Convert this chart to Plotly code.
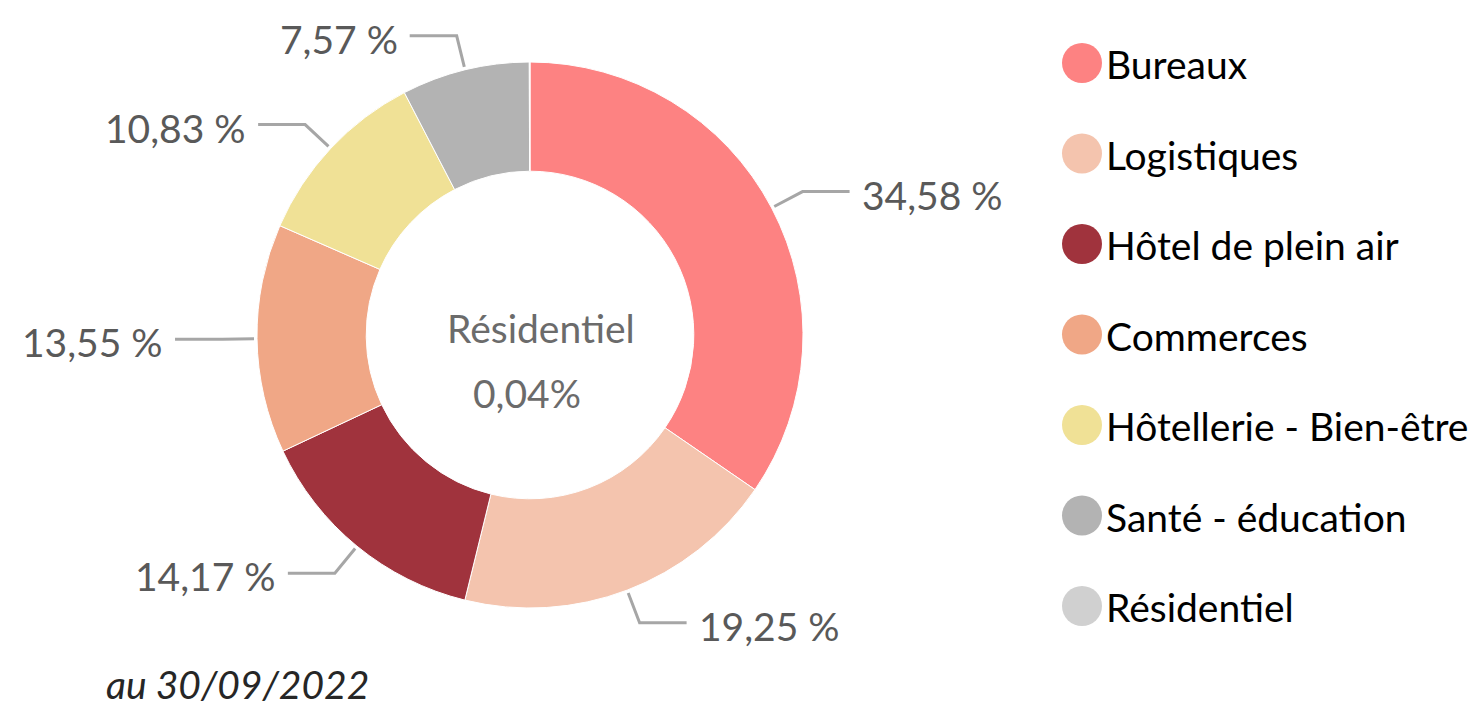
import math
import plotly.graph_objects as go

categories = ["Bureaux", "Logistiques", "Hôtel de plein air", "Commerces",
              "Hôtellerie - Bien-être", "Santé - éducation", "Résidentiel"]
values = [34.58, 19.25, 14.17, 13.55, 10.83, 7.57, 0.04]
colors = ["#FD8282", "#F4C4AE", "#A0333D", "#F0A786", "#F0E196", "#B3B3B3", "#D0D0D0"]
date_note = "au 30/09/2022"

W, H = 1473, 709
FONT = "Lato"
FS = 39

# pie geometry in pixels
cx, cy, R = 530, 335, 273
hole = 0.6


def px(x):
    return x / W


def py(y):
    return 1 - y / H


fig = go.Figure()
fig.add_trace(go.Pie(
    labels=categories, values=values, hole=hole, sort=False, direction="clockwise",
    rotation=0, marker=dict(colors=colors, line=dict(color="white", width=1)),
    textinfo="none", hoverinfo="label+percent", showlegend=False,
    domain=dict(x=[px(cx - R), px(cx + R)], y=[py(cy + R), py(cy - R)]),
))

shapes = []
annotations = []
total = sum(values)
cum = 0.0
for i, (cat, v) in enumerate(zip(categories, values)):
    mid = 2 * math.pi * (cum + v / 2) / total
    cum += v
    if cat == "Résidentiel":
        continue
    s, c = math.sin(mid), math.cos(mid)
    r0, r1 = R + 3, R + 35
    x0, y0 = cx + r0 * s, cy - r0 * c
    x1, y1 = cx + r1 * s, cy - r1 * c
    sign = 1 if s >= 0 else -1
    x2 = x1 + sign * 47
    shapes.append(dict(type="path", xref="paper", yref="paper",
                       path=f"M {px(x0)},{py(y0)} L {px(x1)},{py(y1)} L {px(x2)},{py(y1)}",
                       line=dict(color="#A6A6A6", width=3)))
    txt = f"{v:.2f}".replace(".", ",") + " %"
    annotations.append(dict(x=px(x2 + sign * 10), y=py(y1 + 3), xref="paper", yref="paper",
                            text=txt, showarrow=False,
                            xanchor="left" if sign > 0 else "right", yanchor="middle",
                            font=dict(family=FONT, size=FS, color="#595959")))

# center text for tiny slice
res_idx = categories.index("Résidentiel")
annotations.append(dict(x=px(541), y=py(328), xref="paper", yref="paper",
                        text=categories[res_idx], showarrow=False,
                        xanchor="center", yanchor="middle",
                        font=dict(family=FONT, size=FS, color="#6B6B6B")))
annotations.append(dict(x=px(527), y=py(393), xref="paper", yref="paper",
                        text=f"{values[res_idx]:.2f}".replace(".", ",") + "%", showarrow=False,
                        xanchor="center", yanchor="middle",
                        font=dict(family=FONT, size=FS, color="#6B6B6B")))

# custom legend with large circular markers
leg_y0, leg_dy = 63, 90.5
for i, (cat, col) in enumerate(zip(categories, colors)):
    yc = leg_y0 + i * leg_dy
    shapes.append(dict(type="circle", xref="paper", yref="paper",
                       x0=px(1062), x1=px(1102), y0=py(yc + 20), y1=py(yc - 20),
                       fillcolor=col, line=dict(width=0)))
    annotations.append(dict(x=px(1104), y=py(yc + 1), xref="paper", yref="paper",
                            text=cat, showarrow=False, xanchor="left", yanchor="middle",
                            font=dict(family=FONT, size=FS, color="#000000")))

annotations.append(dict(x=px(237), y=py(684), xref="paper", yref="paper",
                        text=f"<i>{date_note}</i>", showarrow=False,
                        xanchor="center", yanchor="middle",
                        font=dict(family=FONT, size=FS, color="#262626")))

fig.update_layout(
    width=W, height=H, margin=dict(l=0, r=0, t=0, b=0),
    paper_bgcolor="white", plot_bgcolor="white",
    shapes=shapes, annotations=annotations, showlegend=False,
)
fig.write_html("out.html", config={"displayModeBar": False},
               post_script="document.body.style.margin='0';document.body.style.overflow='hidden';")
